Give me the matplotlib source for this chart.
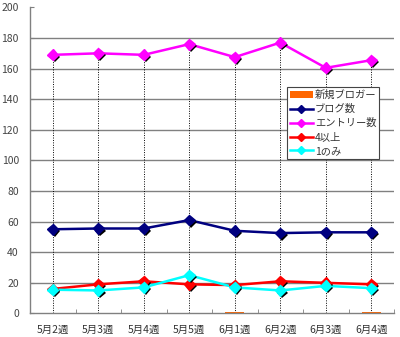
import matplotlib
matplotlib.use("Agg")
import matplotlib.pyplot as plt
import matplotlib.patheffects as pe
import numpy as np

plt.rcParams['font.family'] = ['Noto Sans CJK JP', 'DejaVu Sans']

categories = ["5月2週", "5月3週", "5月4週", "5月5週", "6月1週", "6月2週", "6月3週", "6月4週"]
new_bloggers = [0, 0, 0, 0, 1, 0, 0, 1]
blogs = [55, 55.5, 55.5, 61, 54, 52.5, 53, 53]
entries = [169, 170, 169, 176, 167.5, 177, 160.5, 165.5]
four_plus = [16, 19, 21, 19, 18.5, 21, 20, 19]
only_one = [15.5, 15, 17, 25, 17, 15, 18, 16.5]

fig = plt.figure(figsize=(4, 3.37), dpi=100)
ax = fig.add_axes([0.075, 0.070, 0.91, 0.908])
x = np.arange(len(categories))
gray = '#808080'

ax.set_xlim(-0.5, len(categories) - 0.5)
ax.set_ylim(0, 200)
ax.set_yticks(range(0, 201, 20))
for yv in range(20, 200, 20):
    ax.axhline(yv, color=gray, lw=1.0, zorder=0)

ax.vlines(x, 0, entries, colors='k', linestyles=(0, (1, 1.5)), lw=0.7, zorder=1)

bars = ax.bar(x, new_bloggers, width=0.42, color='#FF6600', label='新規ブロガー', zorder=2)
handles = [bars]

shadow = [pe.withSimplePatchShadow(offset=(1.5, -1.5), shadow_rgbFace='k', alpha=1.0)]
series = [
    (blogs, '#000080', 'ブログ数'),
    (entries, '#FF00FF', 'エントリー数'),
    (four_plus, '#FF0000', '4以上'),
    (only_one, '#00FFFF', '1のみ'),
]
for vals, col, lab in series:
    ax.plot(x, vals, color=col, lw=1.8, zorder=3)
    ax.plot(x, vals, ls='none', marker='D', ms=5.5, color=col, mec=col,
            zorder=4, path_effects=shadow)
    h, = ax.plot([], [], color=col, lw=1.8, marker='D', ms=4, label=lab)
    handles.append(h)

ax.set_xticks(x)
ax.set_xticklabels(categories)
ax.set_xticks(np.arange(-0.5, len(categories), 1.0), minor=True)
ax.tick_params(axis='x', which='major', length=0, labelsize=7.5, colors='#333333', pad=8)
ax.tick_params(axis='x', which='minor', direction='in', length=3, color=gray)
ax.tick_params(axis='y', direction='in', length=3, color=gray, labelsize=7.5, labelcolor='#444444', pad=8)

for s in ['top', 'right']:
    ax.spines[s].set_visible(False)
for s in ['left', 'bottom']:
    ax.spines[s].set_color(gray)
    ax.spines[s].set_linewidth(1.0)

leg = ax.legend(handles=handles, labels=[h.get_label() for h in handles],
                loc='upper left', bbox_to_anchor=(0.706, 0.74), fontsize=7.4,
                frameon=True, fancybox=False, edgecolor='#444444', framealpha=1,
                handlelength=2.2, handletextpad=0.2, borderpad=0.3, labelspacing=0.38,
                borderaxespad=0)
leg.get_frame().set_linewidth(0.8)
for t in leg.get_texts():
    t.set_color('#333333')

fig.savefig('out.png', dpi=100)
